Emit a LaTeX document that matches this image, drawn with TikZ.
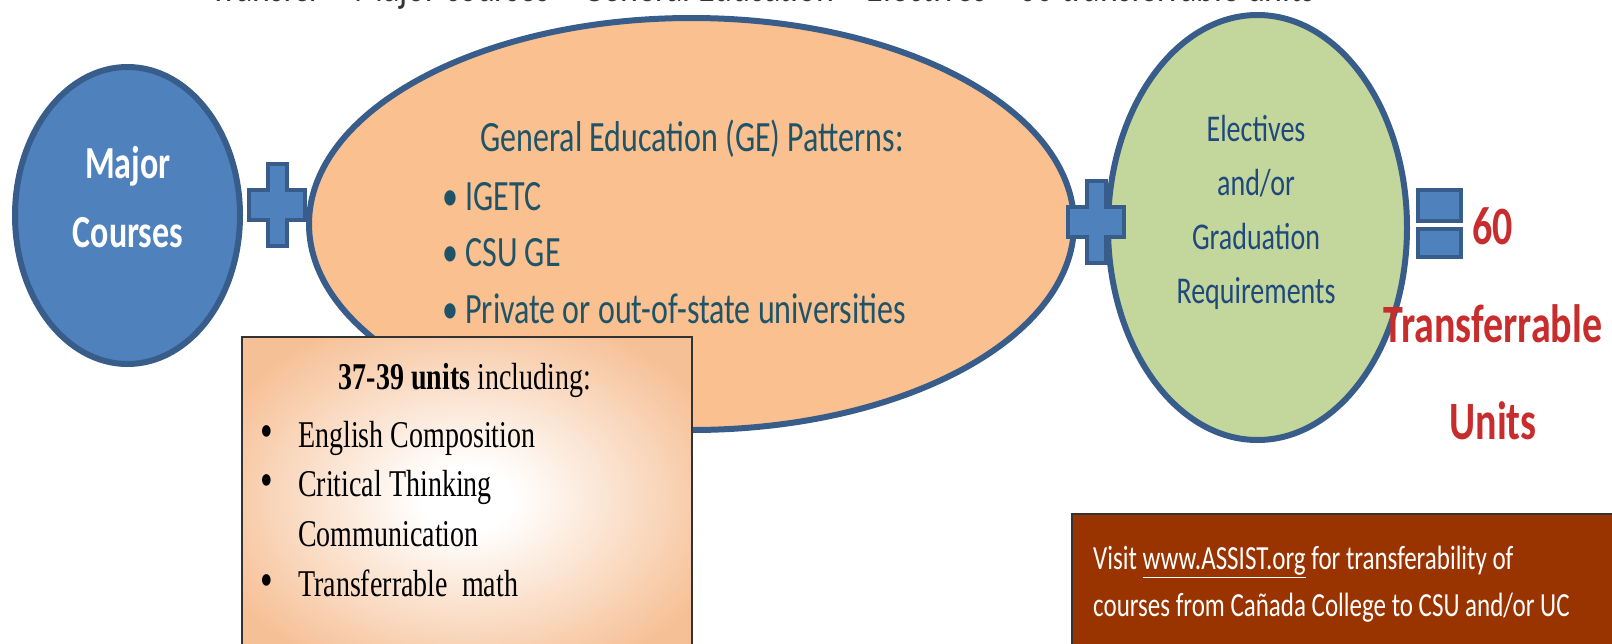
\documentclass[tikz,border=0pt]{standalone}
\usepackage{fontspec}
\setmainfont{Liberation Serif}
\newfontfamily\calibri{Carlito}
\usetikzlibrary{positioning,shapes.geometric}

\definecolor{majorblue}{RGB}{79,129,189}
\definecolor{rimblue}{RGB}{56,93,138}
\definecolor{georange}{RGB}{250,192,144}
\definecolor{electgreen}{RGB}{195,214,155}
\definecolor{tealtext}{RGB}{31,84,104}
\definecolor{navytext}{RGB}{31,73,125}
\definecolor{unitred}{RGB}{200,45,45}
\definecolor{assistbrown}{RGB}{153,51,0}
\definecolor{peachbox}{RGB}{246,192,150}

\pgfdeclareradialshading{peachglow}{\pgfpoint{0bp}{0bp}}{color(0bp)=(white); color(5bp)=(white); color(30bp)=(peachbox); color(50bp)=(peachbox)}

\tikzset{
  bubble/.style={ellipse, draw=rimblue, line width=6pt, inner sep=0pt},
  sign/.style={fill=majorblue, draw=rimblue, line width=4pt, line join=miter},
  tall/.style={yscale=1.35, inner sep=0pt},
}

\newcommand{\plussign}[2]{%
  \draw[sign, shift={(#1,#2)}] (-9.5,-41) -- (9.5,-41) -- (9.5,-15) -- (28,-15)
    -- (28,15) -- (9.5,15) -- (9.5,41) -- (-9.5,41) -- (-9.5,15) -- (-28,15)
    -- (-28,-15) -- (-9.5,-15) -- cycle;}
\newcommand{\bigdot}{\makebox[38pt][l]{\fontsize{36}{36}\selectfont\textbullet}}

\begin{document}
\begin{tikzpicture}[x=1pt, y=-1pt]
\useasboundingbox (0,0) rectangle (1612,643);

\node[tall, anchor=base, black!80, font=\calibri\fontsize{34}{40}\selectfont] (title) at (763,1.5)
  {Transfer = Major courses + General Education + Electives = 60 transferrable units};

\node[bubble, fill=majorblue, minimum width=225, minimum height=297] (major) at (127.5,215.5) {};
\node[bubble, fill=georange, minimum width=765, minimum height=412] (ge) at (691.5,224) {};
\node[bubble, fill=electgreen, minimum width=299, minimum height=425] (elect) at (1257.5,227.5) {};

\plussign{277}{205}
\plussign{1096}{222}
\draw[sign] (1418,190) rectangle (1461,221);
\draw[sign] (1418,229) rectangle (1461,257);

\node[tall, white, align=center, font=\calibri\bfseries\fontsize{34}{51}\selectfont] (majortxt) at (128,197)
  {Major\\Courses};

\node[tall, tealtext, font=\calibri\fontsize{32}{42}\selectfont] (gehead) at (692,139)
  {General Education (GE) Patterns:};
\node[tall, tealtext, align=left, anchor=west, font=\calibri\fontsize{32}{42}\selectfont] (gelist) at (442,253)
  {\textbullet\ IGETC\\\textbullet\ CSU GE\\\textbullet\ Private or out-of-state universities};

\node[tall, navytext, align=center, font=\calibri\fontsize{28}{40}\selectfont] (electtxt) at (1256,212)
  {Electives\\and/or\\Graduation\\Requirements};

\node[tall, unitred, anchor=west, font=\calibri\bfseries\fontsize{40}{48}\selectfont] (sixty) at (1472,226) {60};
\node[tall, unitred, align=center, font=\calibri\bfseries\fontsize{40}{72}\selectfont] (units) at (1493,372)
  {Transferrable\\Units};

\draw[draw=black!80, line width=2pt, shading=peachglow] (242,337) rectangle (692,660);
\node[tall, font=\fontsize{28}{37}\selectfont] (unitshead) at (465,380)
  {\textbf{37-39 units} including:};
\node[tall, align=left, anchor=west, font=\fontsize{28}{37}\selectfont] (unitslist) at (260,509)
  {\bigdot English Composition\\
   \bigdot Critical Thinking\\
   \makebox[38pt][l]{}Communication\\
   \bigdot Transferrable\ \ math};

\draw[draw=black!80, line width=2pt, fill=assistbrown] (1072,514) rectangle (1630,660);
\node[tall, white, align=left, anchor=west, font=\calibri\fontsize{25}{35}\selectfont] (assist) at (1093,584)
  {Visit \underline{www.ASSIST.org} for transferability of\\courses from Cañada College to CSU and/or UC};

\end{tikzpicture}
\end{document}
